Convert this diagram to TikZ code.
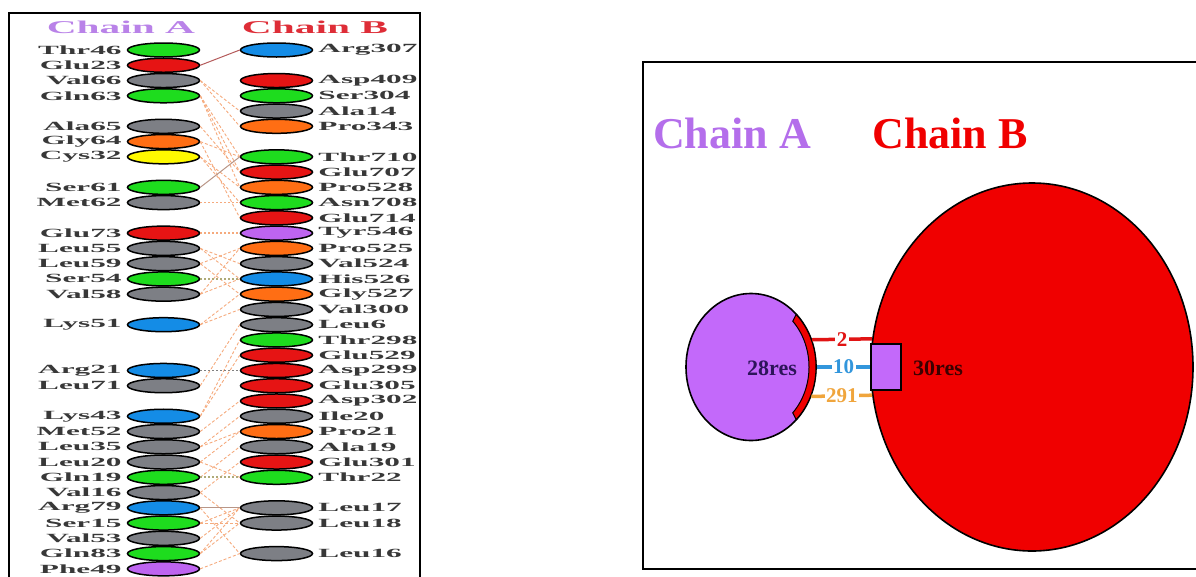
\documentclass[tikz,border=0pt]{standalone}
\usepackage{fontspec}
\setmainfont{Liberation Serif}
\newfontfamily\resfont[FakeStretch=2.5]{Liberation Serif}
\newfontfamily\titlefont[FakeStretch=2.3]{Liberation Serif}
\usetikzlibrary{shapes.geometric,calc}

\definecolor{rgreen}{RGB}{30,220,30}
\definecolor{rred}{RGB}{230,20,20}
\definecolor{rgray}{RGB}{125,127,133}
\definecolor{rorange}{RGB}{255,110,20}
\definecolor{ryellow}{RGB}{255,250,0}
\definecolor{rblue}{RGB}{20,140,230}
\definecolor{rpurple}{RGB}{190,100,240}
\definecolor{titA}{RGB}{185,130,232}
\definecolor{titB}{RGB}{222,45,55}
\definecolor{linkor}{RGB}{245,170,125}
\definecolor{linktan}{RGB}{185,150,135}
\definecolor{linkkhaki}{RGB}{175,170,120}
\definecolor{linkred}{RGB}{180,90,90}
\definecolor{bigA}{RGB}{195,105,250}
\definecolor{bigAtxt}{RGB}{180,110,235}
\definecolor{bigB}{RGB}{240,0,0}
\definecolor{darkA}{RGB}{45,20,90}
\definecolor{darkB}{RGB}{60,0,0}
\definecolor{hbred}{RGB}{225,20,20}
\definecolor{hbblue}{RGB}{50,150,220}
\definecolor{hborange}{RGB}{240,165,60}

\begin{document}
\begin{tikzpicture}[x=1pt,y=-1pt,
  frame/.style={line width=2pt},
  res/.style={ellipse, draw=black, line width=1.5pt, minimum width=72pt,
    minimum height=14pt, inner sep=0pt},
  lblA/.style={font=\resfont\bfseries\fontsize{12.5}{13}\selectfont,
    text=black!78, label distance=5pt, inner sep=0pt},
  lblB/.style={lblA},
  ltitle/.style={font=\titlefont\bfseries\fontsize{18}{18}\selectfont},
  link/.style={draw=linkor, line width=0.9pt, dash pattern=on 3pt off 2pt},
  linksolid/.style={line width=1pt},
  linkdot/.style={line width=1.6pt, dash pattern=on 2pt off 2pt},
  btitle/.style={font=\bfseries\fontsize{44}{44}\selectfont},
  cnt/.style={font=\bfseries\fontsize{22}{22}\selectfont},
  hbond/.style={line width=3.5pt},
  hblabel/.style={fill=white, inner sep=1.5pt, font=\bfseries\fontsize{21}{21}\selectfont}]

\useasboundingbox (0,0) rectangle (1196,576);

% ---------- residue contact map ----------
\draw[frame] (9,590) -- (9,13) -- (420,13) -- (420,590);
\node[ltitle, text=titA] (tA) at (121,27) {Chain A};
\node[ltitle, text=titB] (tB) at (315,27) {Chain B};

\foreach \n/\c/\s in {Thr46/rgreen/0, Glu23/rred/1, Val66/rgray/2, Gln63/rgreen/3,
  Ala65/rgray/5, Gly64/rorange/6, Cys32/ryellow/7, Ser61/rgreen/9, Met62/rgray/10,
  Glu73/rred/12, Leu55/rgray/13, Leu59/rgray/14, Ser54/rgreen/15, Val58/rgray/16,
  Lys51/rblue/18, Arg21/rblue/21, Leu71/rgray/22, Lys43/rblue/24, Met52/rgray/25,
  Leu35/rgray/26, Leu20/rgray/27, Gln19/rgreen/28, Val16/rgray/29, Arg79/rblue/30,
  Ser15/rgreen/31, Val53/rgray/32, Gln83/rgreen/33, Phe49/rpurple/34}
  \node[res, fill=\c, label={[lblA]left:\n}] (\n) at (163.5,{50+15.26*\s}) {};

\foreach \n/\c/\s in {Arg307/rblue/0, Asp409/rred/2, Ser304/rgreen/3, Ala14/rgray/4,
  Pro343/rorange/5, Thr710/rgreen/7, Glu707/rred/8, Pro528/rorange/9, Asn708/rgreen/10,
  Glu714/rred/11, Tyr546/rpurple/12, Pro525/rorange/13, Val524/rgray/14, His526/rblue/15,
  Gly527/rorange/16, Val300/rgray/17, Leu6/rgray/18, Thr298/rgreen/19, Glu529/rred/20,
  Asp299/rred/21, Glu305/rred/22, Asp302/rred/23, Ile20/rgray/24, Pro21/rorange/25,
  Ala19/rgray/26, Glu301/rred/27, Thr22/rgreen/28, Leu17/rgray/30, Leu18/rgray/31,
  Leu16/rgray/33}
  \node[res, fill=\c, label={[lblB]right:\n}] (\n) at (276.5,{50+15.26*\s}) {};

% contacts between the chains
\foreach \a/\b in {Val66/Ala14, Val66/Pro343, Gln63/Thr710, Gln63/Pro528, Gln63/Glu707,
  Ala65/Glu707, Gly64/Thr710, Gly64/Glu714, Cys32/Pro528, Cys32/Asn708,
  Leu55/Val524, Leu55/His526, Leu59/Gly527, Leu59/Pro525, Val58/His526, Val58/Pro525,
  Lys51/Gly527, Lys51/Val300, Leu71/Leu6, Lys43/Thr298, Lys43/Glu529, Met52/Asp302,
  Leu35/Ile20, Leu35/Pro21, Leu20/Pro21, Leu20/Thr22, Gln19/Ala19, Val16/Glu301,
  Val16/Leu18, Ser15/Leu17, Ser15/Leu18, Val53/Leu17, Gln83/Leu18, Gln83/Leu17,
  Arg79/Leu16, Phe49/Leu16}
  \draw[link] (\a.east) -- (\b.west);
\draw[linksolid, draw=linkred] (Glu23.east) -- (Arg307.west);
\draw[linksolid, draw=linktan] (Ser61.east) -- (Thr710.west);
\draw[linksolid, draw=linktan] (Arg79.east) -- (Leu17.west);
\draw[linkdot, draw=linkor] (Met62.east) -- (Asn708.west);
\draw[linkdot, draw=linkor] (Glu73.east) -- (Tyr546.west);
\draw[linkdot, draw=linkkhaki, line width=2.4pt] (Ser54.east) -- (His526.west);
\draw[linkdot, draw=gray] (Arg21.east) -- (Asp299.west);
\draw[linkdot, draw=linkkhaki] (Gln19.east) -- (Thr22.west);

% ---------- chain overview ----------
\draw[frame] (1200,62) -- (643,62) -- (643,569) -- (1200,569);
\node[btitle, text=bigAtxt] (bA) at (732,133) {Chain A};
\node[btitle, text=bigB] (bB) at (950,133) {Chain B};

\node[ellipse, draw=black, line width=1.6pt, fill=bigA, minimum width=130pt,
  minimum height=147pt, inner sep=0pt] (ca) at (751,367) {};
\node[ellipse, draw=black, line width=1.6pt, fill=bigB, minimum width=322pt,
  minimum height=368pt, inner sep=0pt] (cb) at (1032,367) {};

% interface patch on chain A
\filldraw[fill=bigB, draw=black, line width=1pt]
  ($(ca.center)+(-46:65 and 73)$) arc[start angle=-46, end angle=46, x radius=65, y radius=73]
  -- ($(ca.center)+(44:58 and 66)$) arc[start angle=44, end angle=-44, x radius=58, y radius=66]
  -- cycle;
% interface patch on chain B
\node[draw=black, line width=1.4pt, fill=bigA, minimum width=30pt, minimum height=46pt,
  inner sep=0pt] (sq) at (886,367) {};

\node[cnt, text=darkA] (ra) at (772,368) {28res};
\node[cnt, text=darkB] (rb) at (938,368) {30res};

\draw[hbond, draw=hbred] (ca.24) -- node[hblabel, text=hbred] {2} (cb.170.4);
\draw[hbond, draw=hbblue] (ca.east) -- node[hblabel, text=hbblue] {10} (sq.west);
\draw[hbond, draw=hborange] (ca.-26.8) -- node[hblabel, text=hborange] {291} (cb.190.7);
\end{tikzpicture}
\end{document}
